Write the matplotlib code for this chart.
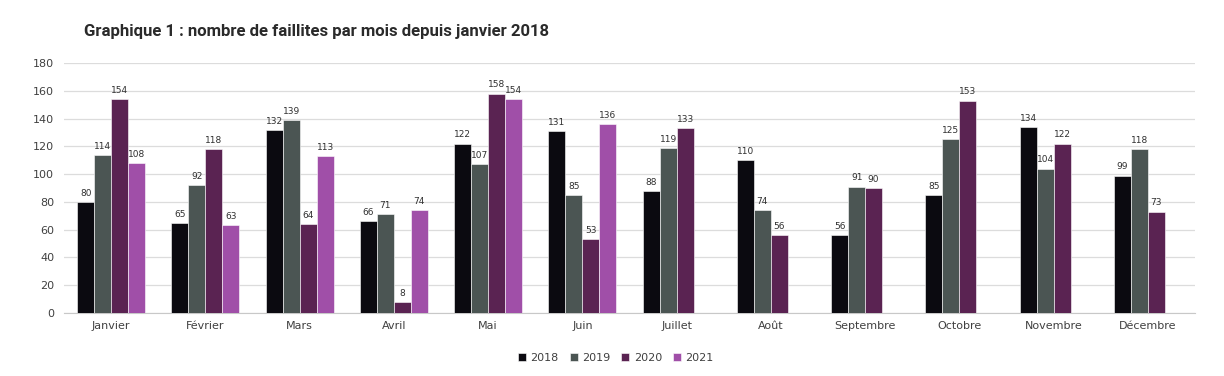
import numpy as np
import matplotlib.pyplot as plt

# Monthly bankruptcies
months = ['Janvier', 'Février', 'Mars', 'Avril', 'Mai', 'Juin', 'Juillet',
          'Août', 'Septembre', 'Octobre', 'Novembre', 'Décembre']
v2018 = [80, 65, 132, 66, 122, 131, 88, 110, 56, 85, 134, 99]
v2019 = [114, 92, 139, 71, 107, 85, 119, 74, 91, 125, 104, 118]
v2020 = [154, 118, 64, 8, 158, 53, 133, 56, 90, 153, 122, 73]
v2021 = [108, 63, 113, 74, 154, 136]
years = ['2018', '2019', '2020', '2021']
colors = ['#0b0a10', '#4b5553', '#5a2352', '#a04fa8']

fig = plt.figure(figsize=(12.24, 3.76), dpi=100)
ax = fig.add_axes([0.0523, 0.1676, 0.924, 0.6648])

x = np.arange(len(months))
w = 0.18
series = [v2018, v2019, v2020, v2021]
for i, (vals, col, yr) in enumerate(zip(series, colors, years)):
    xs = x[:len(vals)] + (i - 1.5) * w
    bars = ax.bar(xs, vals, width=w, color=col, label=yr,
                  edgecolor='white', linewidth=0.4, zorder=3)
    for b, v in zip(bars, vals):
        ax.text(b.get_x() + b.get_width() / 2, v + 3, str(v),
                ha='center', va='bottom', fontsize=6.5, color='#303030', zorder=4)

ax.set_xlim(-0.5, len(months) - 0.5)
ax.set_ylim(0, 180)
ax.set_yticks(range(0, 181, 20))
ax.set_xticks(x)
ax.set_xticklabels(months)
ax.tick_params(axis='both', length=0, labelsize=8, colors='#404040')
ax.tick_params(axis='y', pad=7)
ax.tick_params(axis='x', pad=6)
ax.grid(axis='y', color='#dcdcdc', linewidth=0.9, zorder=0)
for s in ['top', 'right', 'left']:
    ax.spines[s].set_visible(False)
ax.spines['bottom'].set_color('#c8c8c8')

ax.legend(loc='upper center', bbox_to_anchor=(0.488, -0.12), ncol=4, frameon=False,
          fontsize=8, handlelength=0.7, handleheight=0.7, handletextpad=0.4,
          columnspacing=1.0, labelcolor='#404040')

fig.text(0.069, 0.905, 'Graphique 1 : nombre de faillites par mois depuis janvier 2018',
         fontsize=12.1, fontweight='bold', family='Roboto', color='#2a2a2a')

fig.savefig('out.png', dpi=100)
